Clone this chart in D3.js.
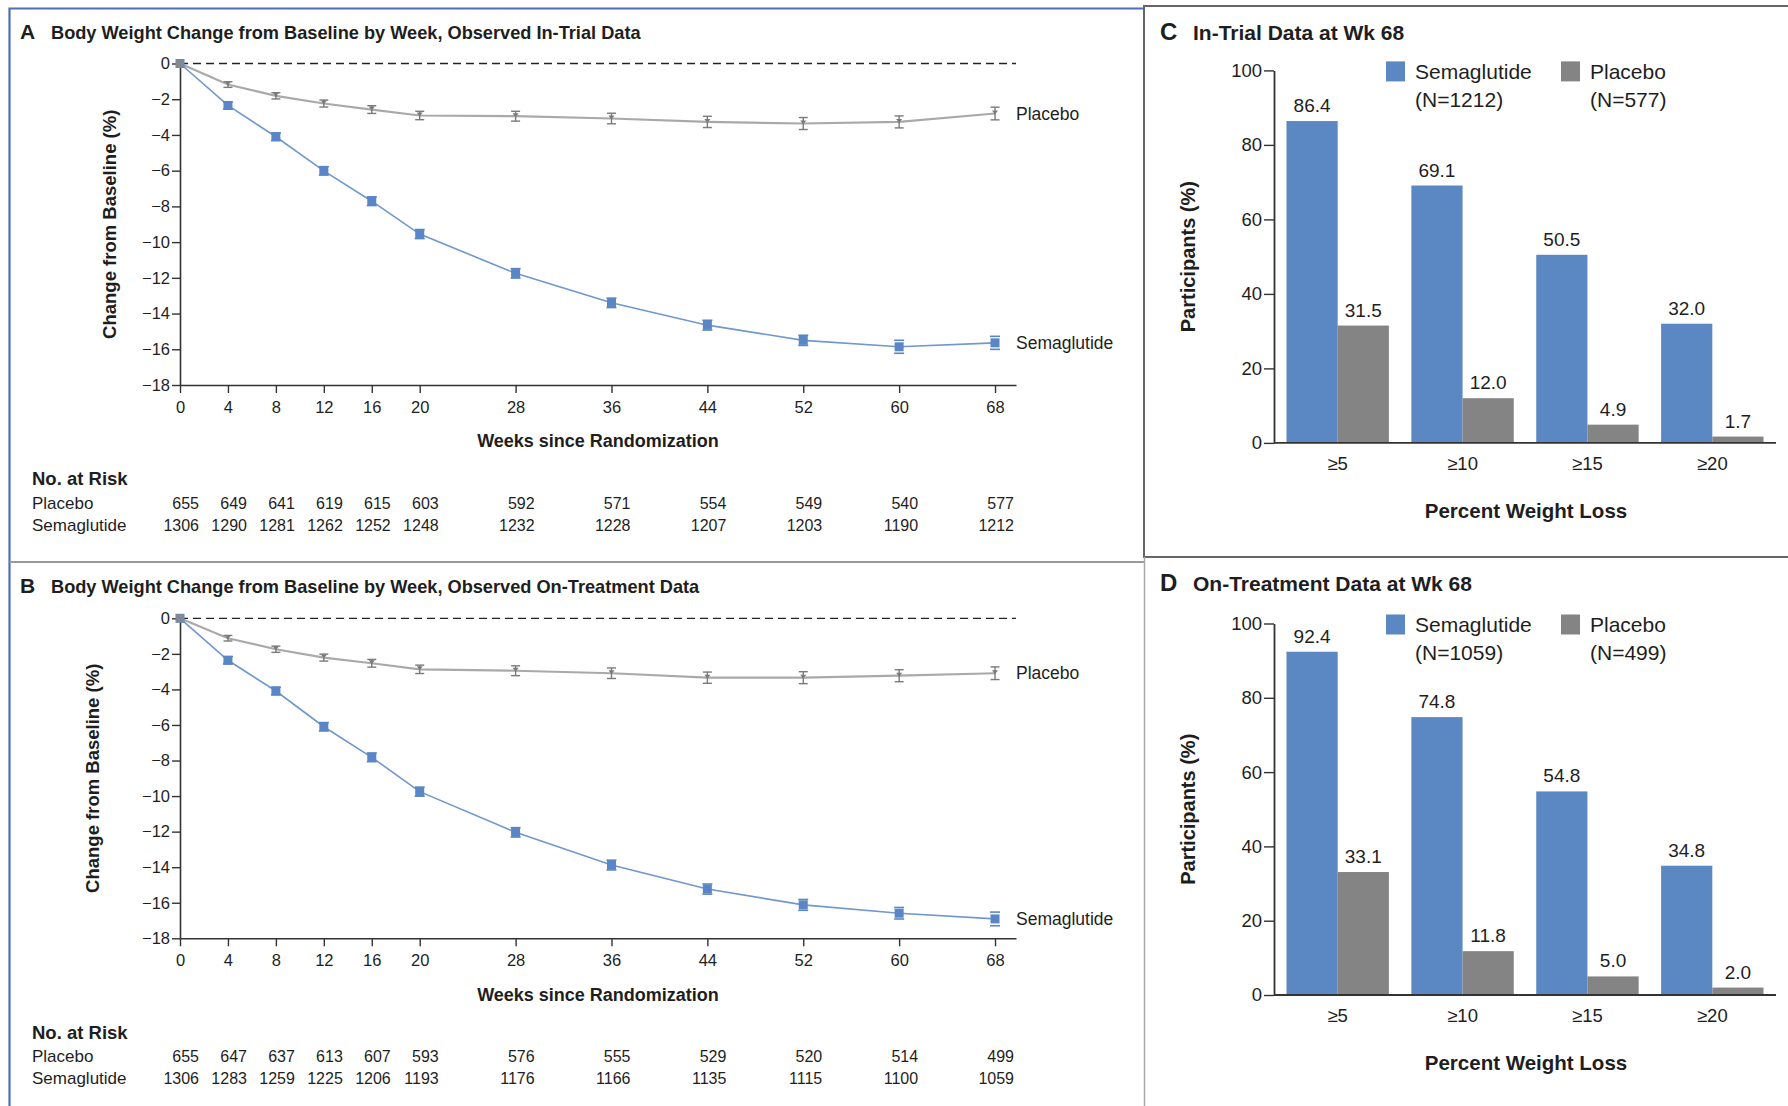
<!DOCTYPE html>
<html>
<head>
<meta charset="utf-8">
<script src="https://cdn.jsdelivr.net/npm/d3@7"></script>
<style>
  html, body { margin: 0; padding: 0; background: #fff; }
  svg { display: block; }
  text { font-family: "Liberation Sans", Arial, sans-serif; fill: #1e1e1e; }
</style>
</head>
<body>
<svg id="chart" width="1788" height="1106"></svg>
<script>
// ---------------- DATA ----------------
const weeks = [0, 4, 8, 12, 16, 20, 28, 36, 44, 52, 60, 68];

// Panel A: observed in-trial data (% change from baseline)
const placeboA    = [0, -1.18, -1.81, -2.24, -2.58, -2.91, -2.95, -3.08, -3.27, -3.36, -3.27, -2.80];
const placeboAErr = [0, 0.10, 0.12, 0.14, 0.16, 0.18, 0.22, 0.24, 0.26, 0.28, 0.28, 0.30];
const semaA       = [0, -2.35, -4.10, -6.01, -7.71, -9.55, -11.75, -13.40, -14.65, -15.50, -15.86, -15.64];
const semaAErr    = [0, 0.12, 0.13, 0.15, 0.16, 0.17, 0.18, 0.18, 0.19, 0.20, 0.28, 0.28];
const riskPlaceboA = [655, 649, 641, 619, 615, 603, 592, 571, 554, 549, 540, 577];
const riskSemaA    = [1306, 1290, 1281, 1262, 1252, 1248, 1232, 1228, 1207, 1203, 1190, 1212];

// Panel B: observed on-treatment data
const placeboB    = [0, -1.12, -1.74, -2.21, -2.53, -2.87, -2.95, -3.09, -3.34, -3.34, -3.23, -3.09];
const placeboBErr = [0, 0.10, 0.12, 0.14, 0.16, 0.18, 0.22, 0.24, 0.26, 0.28, 0.28, 0.30];
const semaB       = [0, -2.36, -4.09, -6.10, -7.82, -9.75, -12.04, -13.88, -15.23, -16.12, -16.59, -16.91];
const semaBErr    = [0, 0.12, 0.13, 0.15, 0.16, 0.17, 0.18, 0.19, 0.20, 0.22, 0.24, 0.30];
const riskPlaceboB = [655, 647, 637, 613, 607, 593, 576, 555, 529, 520, 514, 499];
const riskSemaB    = [1306, 1283, 1259, 1225, 1206, 1193, 1176, 1166, 1135, 1115, 1100, 1059];

const yTicksLine = [0, -2, -4, -6, -8, -10, -12, -14, -16, -18];

// Panels C & D: participants (%) reaching weight-loss thresholds at week 68
const thresholds = ["≥5", "≥10", "≥15", "≥20"];
const semaC    = [86.4, 69.1, 50.5, 32.0];
const placeboC = [31.5, 12.0, 4.9, 1.7];
const semaD    = [92.4, 74.8, 54.8, 34.8];
const placeboD = [33.1, 11.8, 5.0, 2.0];
const nSemaC = 1212, nPlaceboC = 577;
const nSemaD = 1059, nPlaceboD = 499;
const yTicksBar = [0, 20, 40, 60, 80, 100];

// ---------------- STYLE ----------------
const BLUE_LINE = "#7097d0";
const BLUE_MARK = "#5a86c5";
const GRAY_LINE = "#a9a9a9";
const GRAY_MARK = "#7a7a7a";
const BLUE_BAR = "#5b88c3";
const GRAY_BAR = "#848484";
const AXIS = "#333";

const svg = d3.select("#chart");
svg.append("rect").attr("width", 1788).attr("height", 1106).attr("fill", "#fff");

// ---------------- BORDERS ----------------
svg.append("path").attr("d", "M9.5,1106 L9.5,8.5 L1143,8.5")
  .attr("fill", "none").attr("stroke", "#4e6fb6").attr("stroke-width", 2.2);
svg.append("path").attr("d", "M1788,6 L1144,6 L1144,557 L1788,557")
  .attr("fill", "none").attr("stroke", "#666").attr("stroke-width", 2);
svg.append("line").attr("x1", 9.5).attr("x2", 1144).attr("y1", 562).attr("y2", 562)
  .attr("stroke", "#9a9a9a").attr("stroke-width", 2);
svg.append("line").attr("x1", 1144.5).attr("x2", 1144.5).attr("y1", 557).attr("y2", 1106)
  .attr("stroke", "#aaa").attr("stroke-width", 1.5);

// ---------------- LINE PANELS ----------------
function linePanel(cfg) {
  const g = svg.append("g");
  const x = d3.scaleLinear().domain([0, 69.75]).range([180, 1016]);
  const y = d3.scaleLinear().domain([-18, 0]).range([cfg.yBot, cfg.yTop]);

  // title
  g.append("text").attr("x", 20).attr("y", cfg.titleY)
    .attr("font-size", 21).attr("font-weight", "bold").text(cfg.letter);
  g.append("text").attr("x", 51).attr("y", cfg.titleY)
    .attr("font-size", 18.2).attr("font-weight", "bold").text(cfg.title);

  // dashed zero line
  g.append("line").attr("x1", x(0)).attr("x2", x(69.75)).attr("y1", y(0)).attr("y2", y(0))
    .attr("stroke", "#222").attr("stroke-width", 1.3).attr("stroke-dasharray", "8,5");

  // axes
  const yAx = g.append("g").attr("transform", `translate(${x(0)},0)`)
    .call(d3.axisLeft(y).tickValues(yTicksLine).tickSize(8).tickSizeOuter(0).tickPadding(2)
      .tickFormat(d => d === 0 ? "0" : "\u2212" + Math.abs(d)));
  const xAx = g.append("g").attr("transform", `translate(0,${y(-18)})`)
    .call(d3.axisBottom(x).tickValues(weeks).tickSize(8).tickSizeOuter(0).tickPadding(8));
  [yAx, xAx].forEach(a => {
    a.select(".domain").attr("stroke", AXIS).attr("stroke-width", 1.6);
    a.selectAll(".tick line").attr("stroke", AXIS).attr("stroke-width", 1.4);
    a.selectAll(".tick text").attr("font-size", 16.5).attr("fill", "#222")
      .attr("font-family", '"Liberation Sans", Arial, sans-serif');
  });

  // axis titles
  g.append("text").attr("transform", `translate(${cfg.yTitleX},${(y(0) + y(-18)) / 2}) rotate(-90)`)
    .attr("text-anchor", "middle").attr("dy", "0.35em")
    .attr("font-size", 18.5).attr("font-weight", "bold").text("Change from Baseline (%)");
  g.append("text").attr("x", 598).attr("y", y(-18) + 56).attr("text-anchor", "middle")
    .attr("dy", "0.35em").attr("font-size", 18).attr("font-weight", "bold")
    .text("Weeks since Randomization");

  // series
  const mk = (vals, errs) => weeks.map((w, i) => ({ w, v: vals[i], e: errs[i] }));
  const pl = mk(cfg.placebo, cfg.placeboErr);
  const se = mk(cfg.sema, cfg.semaErr);
  const line = d3.line().x(d => x(d.w)).y(d => y(d.v));

  g.append("path").datum(pl).attr("d", line).attr("fill", "none")
    .attr("stroke", GRAY_LINE).attr("stroke-width", 2.2);
  g.append("path").datum(se).attr("d", line).attr("fill", "none")
    .attr("stroke", BLUE_LINE).attr("stroke-width", 1.6);

  // placebo error bars
  const pe = g.append("g").selectAll("g").data(pl).join("g");
  pe.append("line").attr("x1", d => x(d.w)).attr("x2", d => x(d.w))
    .attr("y1", d => y(d.v - d.e) + 1).attr("y2", d => y(d.v + d.e) - 1)
    .attr("stroke", GRAY_MARK).attr("stroke-width", 1.4);
  pe.filter(d => d.w > 0).append("line").attr("x1", d => x(d.w) - 4.5).attr("x2", d => x(d.w) + 4.5)
    .attr("y1", d => y(d.v - d.e) + 1).attr("y2", d => y(d.v - d.e) + 1)
    .attr("stroke", GRAY_MARK).attr("stroke-width", 1.4);
  pe.filter(d => d.w > 0).append("line").attr("x1", d => x(d.w) - 4.5).attr("x2", d => x(d.w) + 4.5)
    .attr("y1", d => y(d.v + d.e) - 1).attr("y2", d => y(d.v + d.e) - 1)
    .attr("stroke", GRAY_MARK).attr("stroke-width", 1.4);
  pe.append("path")
    .attr("d", d => `M${x(d.w) - 3},${y(d.v) - 3}L${x(d.w) + 3},${y(d.v) - 3}L${x(d.w)},${y(d.v) + 1}Z`)
    .attr("fill", GRAY_MARK);

  // semaglutide markers
  const sg = g.append("g").selectAll("g").data(se).join("g");
  sg.filter(d => d.w > 0).append("line").attr("x1", d => x(d.w) - 5).attr("x2", d => x(d.w) + 5)
    .attr("y1", d => y(d.v - d.e) + 1.5).attr("y2", d => y(d.v - d.e) + 1.5)
    .attr("stroke", BLUE_MARK).attr("stroke-width", 1.6);
  sg.filter(d => d.w > 0).append("line").attr("x1", d => x(d.w) - 5).attr("x2", d => x(d.w) + 5)
    .attr("y1", d => y(d.v + d.e) - 1.5).attr("y2", d => y(d.v + d.e) - 1.5)
    .attr("stroke", BLUE_MARK).attr("stroke-width", 1.6);
  sg.append("rect").attr("x", d => x(d.w) - 4.5).attr("y", d => y(d.v) - 4.5)
    .attr("width", 9).attr("height", 9).attr("fill", BLUE_MARK);
  // week 0 marker (gray over blue)
  g.append("rect").attr("x", x(0) - 4).attr("y", y(0) - 4).attr("width", 8).attr("height", 8)
    .attr("fill", "#8a8a8a").attr("opacity", 0.85);

  // series labels
  g.append("text").attr("x", 1016).attr("y", y(pl[pl.length - 1].v)).attr("dy", "0.35em")
    .attr("font-size", 17.5).text("Placebo");
  g.append("text").attr("x", 1016).attr("y", y(se[se.length - 1].v)).attr("dy", "0.35em")
    .attr("font-size", 17.5).text("Semaglutide");

  // number at risk
  const r0 = y(-18) + 94;
  g.append("text").attr("x", 32).attr("y", r0).attr("dy", "0.35em")
    .attr("font-size", 18.5).attr("font-weight", "bold").text("No. at Risk");
  g.append("text").attr("x", 32).attr("y", r0 + cfg.row1).attr("dy", "0.35em")
    .attr("font-size", 17).text("Placebo");
  g.append("text").attr("x", 32).attr("y", r0 + cfg.row2).attr("dy", "0.35em")
    .attr("font-size", 17).text("Semaglutide");
  g.append("g").selectAll("text").data(weeks).join("text")
    .attr("x", d => x(d) + 19).attr("y", r0 + cfg.row1).attr("dy", "0.35em")
    .attr("text-anchor", "end").attr("font-size", 16).text((d, i) => cfg.riskP[i]);
  g.append("g").selectAll("text").data(weeks).join("text")
    .attr("x", d => x(d) + 19).attr("y", r0 + cfg.row2).attr("dy", "0.35em")
    .attr("text-anchor", "end").attr("font-size", 16).text((d, i) => cfg.riskS[i]);
}

linePanel({
  letter: "A", title: "Body Weight Change from Baseline by Week, Observed In-Trial Data",
  titleY: 38.5, yTop: 63.5, yBot: 385, yTitleX: 110,
  placebo: placeboA, placeboErr: placeboAErr, sema: semaA, semaErr: semaAErr,
  riskP: riskPlaceboA, riskS: riskSemaA, row1: 24, row2: 46
});
linePanel({
  letter: "B", title: "Body Weight Change from Baseline by Week, Observed On-Treatment Data",
  titleY: 592.5, yTop: 618.3, yBot: 938.3, yTitleX: 93,
  placebo: placeboB, placeboErr: placeboBErr, sema: semaB, semaErr: semaBErr,
  riskP: riskPlaceboB, riskS: riskSemaB, row1: 24, row2: 46
});

// ---------------- BAR PANELS ----------------
function barPanel(cfg) {
  const g = svg.append("g");
  const x0 = d3.scaleBand().domain(thresholds).range([1274, 1776]).paddingInner(0.18).paddingOuter(0.1);
  const x1 = d3.scaleBand().domain(["sema", "placebo"]).range([0, x0.bandwidth()]);
  const y = d3.scaleLinear().domain([0, 100]).range([cfg.yBot, cfg.yTop]);

  g.append("text").attr("x", 1160).attr("y", cfg.titleY)
    .attr("font-size", 24).attr("font-weight", "bold").text(cfg.letter);
  g.append("text").attr("x", 1193).attr("y", cfg.titleY)
    .attr("font-size", 21).attr("font-weight", "bold").text(cfg.title);

  const data = thresholds.map((t, i) => ({ t, vals: [
    { k: "sema", v: cfg.sema[i] }, { k: "placebo", v: cfg.placebo[i] }] }));

  const grp = g.append("g").selectAll("g").data(data).join("g")
    .attr("transform", d => `translate(${x0(d.t)},0)`);
  grp.selectAll("rect").data(d => d.vals).join("rect")
    .attr("x", d => x1(d.k)).attr("width", x1.bandwidth())
    .attr("y", d => y(d.v)).attr("height", d => y(0) - y(d.v))
    .attr("fill", d => d.k === "sema" ? BLUE_BAR : GRAY_BAR);
  grp.selectAll("text").data(d => d.vals).join("text")
    .attr("x", d => x1(d.k) + x1.bandwidth() / 2).attr("y", d => y(d.v) - 9)
    .attr("text-anchor", "middle").attr("font-size", 19)
    .text(d => d.v.toFixed(1));

  const yAx = g.append("g").attr("transform", `translate(1274,0)`)
    .call(d3.axisLeft(y).tickValues(yTicksBar).tickSize(10).tickSizeOuter(0).tickPadding(2));
  const xAx = g.append("g").attr("transform", `translate(0,${y(0)})`)
    .call(d3.axisBottom(x0).tickSize(0).tickSizeOuter(0).tickPadding(14));
  [yAx, xAx].forEach(a => {
    a.select(".domain").attr("stroke", AXIS).attr("stroke-width", 1.8);
    a.selectAll(".tick line").attr("stroke", AXIS).attr("stroke-width", 1.4);
    a.selectAll(".tick text").attr("font-size", 18.5).attr("fill", "#222")
      .attr("font-family", '"Liberation Sans", Arial, sans-serif');
  });
  xAx.select(".domain").attr("d", `M1274,0H1776`);

  g.append("text").attr("transform", `translate(1188,${(y(0) + y(100)) / 2}) rotate(-90)`)
    .attr("text-anchor", "middle").attr("dy", "0.35em")
    .attr("font-size", 20).attr("font-weight", "bold").text("Participants (%)");
  g.append("text").attr("x", 1526).attr("y", y(0) + 68).attr("text-anchor", "middle")
    .attr("dy", "0.35em").attr("font-size", 20.5).attr("font-weight", "bold")
    .text("Percent Weight Loss");

  // legend
  const lg = [
    { name: "Semaglutide", n: cfg.nS, c: BLUE_BAR, x: 1386 },
    { name: "Placebo", n: cfg.nP, c: GRAY_BAR, x: 1561 }
  ];
  const L = g.append("g").selectAll("g").data(lg).join("g");
  L.append("rect").attr("x", d => d.x).attr("y", y(100) - 9).attr("width", 19).attr("height", 20)
    .attr("fill", d => d.c);
  L.append("text").attr("x", d => d.x + 29).attr("y", y(100) + 1).attr("dy", "0.35em")
    .attr("font-size", 21).text(d => d.name);
  L.append("text").attr("x", d => d.x + 29).attr("y", y(100) + 29).attr("dy", "0.35em")
    .attr("font-size", 21).text(d => `(N=${d.n})`);
}

barPanel({
  letter: "C", title: "In-Trial Data at Wk 68", titleY: 40, yTop: 70.4, yBot: 442.9,
  sema: semaC, placebo: placeboC, nS: nSemaC, nP: nPlaceboC
});
barPanel({
  letter: "D", title: "On-Treatment Data at Wk 68", titleY: 591, yTop: 623.5, yBot: 995,
  sema: semaD, placebo: placeboD, nS: nSemaD, nP: nPlaceboD
});
</script>
</body>
</html>
